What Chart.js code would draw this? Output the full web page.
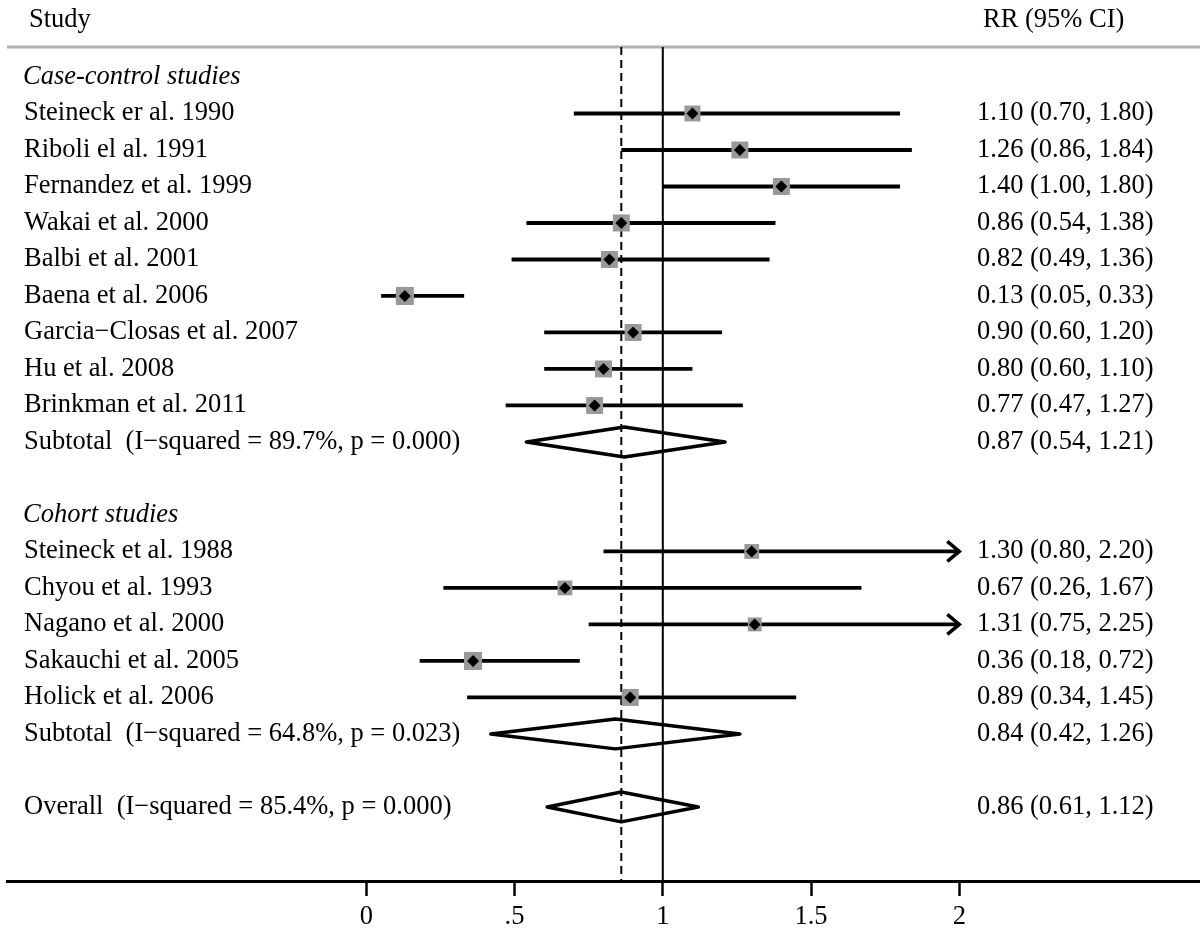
<!doctype html>
<html>
  <head>
    <meta charset="UTF-8">
    <title>Forest plot</title>
    <script src="https://cdn.jsdelivr.net/npm/chart.js@4/dist/chart.umd.min.js"></script>
    <style>
      body {
        margin: 0;
        background: #fff;
      }
      #wrap {
        width: 1200px;
        height: 934px;
      }
    </style>
  </head>
  <body>
    <div id="wrap">
      <canvas id="forest" width="1200" height="934"></canvas>
    </div>
    <script>
      // case-control studies
      var ccStudies = ['Steineck er al. 1990', 'Riboli el al. 1991', 'Fernandez et al. 1999', 'Wakai et al. 2000',
        'Balbi et al. 2001', 'Baena et al. 2006', 'Garcia\u2212Closas et al. 2007', 'Hu et al. 2008', 'Brinkman et al. 2011']
      var ccRR    = [1.10, 1.26, 1.40, 0.86, 0.82, 0.13, 0.90, 0.80, 0.77]
      var ccLower = [0.70, 0.86, 1.00, 0.54, 0.49, 0.05, 0.60, 0.60, 0.47]
      var ccUpper = [1.80, 1.84, 1.80, 1.38, 1.36, 0.33, 1.20, 1.10, 1.27]
      var ccWeight = [6.6, 7.5, 7.5, 7.5, 7.5, 8.5, 7.5, 7.5, 7.5]

      // cohort studies
      var coStudies = ['Steineck et al. 1988', 'Chyou et al. 1993', 'Nagano et al. 2000', 'Sakauchi et al. 2005', 'Holick et al. 2006']
      var coRR    = [1.30, 0.67, 1.31, 0.36, 0.89]
      var coLower = [0.80, 0.26, 0.75, 0.18, 0.34]
      var coUpper = [2.20, 1.67, 2.25, 0.72, 1.45]
      var coWeight = [5.7, 5.7, 5.0, 8.5, 7.5]

      // pooled estimates: case-control subtotal, cohort subtotal, overall
      var pooledLabels = ['Subtotal  (I\u2212squared = 89.7%, p = 0.000)', 'Subtotal  (I\u2212squared = 64.8%, p = 0.023)',
        'Overall  (I\u2212squared = 85.4%, p = 0.000)']
      var pooledRR    = [0.87, 0.84, 0.86]
      var pooledLower = [0.54, 0.42, 0.61]
      var pooledUpper = [1.21, 1.26, 1.12]

      var groupTitles = ['Case-control studies', 'Cohort studies']
      var tickValues = [0, 0.5, 1, 1.5, 2]
      var tickLabels = ['0', '.5', '1', '1.5', '2']

      var FAMILY = '"Liberation Serif", "Times New Roman", serif'
      var FONT = '26.5px ' + FAMILY
      var ITALIC = 'italic 26.5px ' + FAMILY
      var xCap = 2          // CIs beyond this get an arrow
      var yTop = -0.822     // row units at header rule
      var yBottom = 22.03   // row units at x axis
      var diamondHalf = 0.41

      // build row layout
      var rows = []
      var r = 0
      rows.push({kind: 'title', label: groupTitles[0], row: r++})
      for (var i = 0; i < ccStudies.length; i++) {
        rows.push({kind: 'study', label: ccStudies[i], est: ccRR[i], lo: ccLower[i], hi: ccUpper[i], w: ccWeight[i], row: r++})
      }
      rows.push({kind: 'pooled', label: pooledLabels[0], est: pooledRR[0], lo: pooledLower[0], hi: pooledUpper[0], row: r++})
      r++
      rows.push({kind: 'title', label: groupTitles[1], row: r++})
      for (var i = 0; i < coStudies.length; i++) {
        rows.push({kind: 'study', label: coStudies[i], est: coRR[i], lo: coLower[i], hi: coUpper[i], w: coWeight[i], row: r++})
      }
      rows.push({kind: 'pooled', label: pooledLabels[1], est: pooledRR[1], lo: pooledLower[1], hi: pooledUpper[1], row: r++})
      r++
      rows.push({kind: 'pooled', label: pooledLabels[2], est: pooledRR[2], lo: pooledLower[2], hi: pooledUpper[2], row: r++})

      var studies = rows.filter(function(d) { return d.kind == 'study' })
      var pooled = rows.filter(function(d) { return d.kind == 'pooled' })

      var ciData = []
      studies.forEach(function(d) {
        ciData.push({x: d.lo, y: d.row})
        ciData.push({x: Math.min(d.hi, xCap), y: d.row})
        ciData.push({x: d.lo, y: null})
      })

      var diamondData = []
      pooled.forEach(function(d) {
        diamondData.push({x: d.lo, y: d.row})
        diamondData.push({x: d.est, y: d.row - diamondHalf})
        diamondData.push({x: d.hi, y: d.row})
        diamondData.push({x: d.est, y: d.row + diamondHalf})
        diamondData.push({x: d.lo, y: d.row})
        diamondData.push({x: d.lo, y: null})
      })

      var squareData = studies.map(function(d) { return {x: d.est, y: d.row} })
      var squareRadius = studies.map(function(d) { return 6.2 * Math.sqrt(d.w) / Math.SQRT2 })

      function fmt(d) {
        return d.est.toFixed(2) + ' (' + d.lo.toFixed(2) + ', ' + d.hi.toFixed(2) + ')'
      }

      var forestText = {
        id: 'forestText',
        beforeDatasetsDraw: function(chart) {
          var ctx = chart.ctx
          var area = chart.chartArea
          ctx.save()
          ctx.strokeStyle = '#b4b4b4'
          ctx.lineWidth = 3
          ctx.beginPath()
          ctx.moveTo(area.left, area.top)
          ctx.lineTo(area.right, area.top)
          ctx.stroke()
          ctx.restore()
        },
        afterDatasetsDraw: function(chart) {
          var ctx = chart.ctx
          var xs = chart.scales.x
          var ys = chart.scales.y
          ctx.save()
          ctx.fillStyle = '#000'
          ctx.textBaseline = 'middle'
          ctx.font = FONT
          ctx.fillText('Study', 29, 20)
          ctx.fillText('RR (95% CI)', 983, 20)
          rows.forEach(function(d) {
            var py = ys.getPixelForValue(d.row)
            if (d.kind == 'title') {
              ctx.font = ITALIC
              ctx.fillText(d.label, 23, py)
            } else {
              ctx.font = FONT
              ctx.fillText(d.label, 24, py)
              ctx.fillText(fmt(d), 977, py)
            }
          })
          // arrows for truncated CIs
          ctx.strokeStyle = '#000'
          ctx.lineWidth = 3.5
          ctx.lineJoin = 'miter'
          studies.forEach(function(d) {
            if (d.hi > xCap) {
              var px = xs.getPixelForValue(xCap)
              var py = ys.getPixelForValue(d.row)
              ctx.beginPath()
              ctx.moveTo(px - 12, py - 10)
              ctx.lineTo(px, py)
              ctx.lineTo(px - 12, py + 10)
              ctx.stroke()
            }
          })
          ctx.restore()
        }
      }

      var chart = new Chart(document.getElementById('forest').getContext('2d'), {
        type: 'scatter',
        data: {
          datasets: [
            {
              label: 'point',
              data: squareData,
              pointStyle: 'rectRot',
              pointRadius: 6,
              backgroundColor: '#000',
              borderWidth: 0,
              order: 0
            },
            {
              label: 'weight',
              data: squareData,
              pointStyle: 'rect',
              pointRadius: squareRadius,
              backgroundColor: '#999999',
              borderWidth: 0,
              order: 1
            },
            {
              label: 'ci',
              data: ciData,
              showLine: true,
              spanGaps: false,
              pointRadius: 0,
              borderColor: '#000',
              borderWidth: 3.8,
              order: 2
            },
            {
              label: 'pooled',
              data: diamondData,
              showLine: true,
              spanGaps: false,
              pointRadius: 0,
              borderColor: '#000',
              borderWidth: 3.5,
              borderJoinStyle: 'round',
              borderCapStyle: 'round',
              order: 2
            },
            {
              label: 'null',
              data: [{x: 1, y: yTop}, {x: 1, y: yBottom}],
              showLine: true,
              pointRadius: 0,
              borderColor: '#000',
              borderWidth: 2,
              order: 3
            },
            {
              label: 'overall',
              data: [{x: pooledRR[2], y: yTop}, {x: pooledRR[2], y: yBottom}],
              showLine: true,
              pointRadius: 0,
              borderColor: '#000',
              borderWidth: 2,
              borderDash: [8, 5],
              order: 3
            }
          ]
        },
        options: {
          responsive: false,
          animation: false,
          devicePixelRatio: 1,
          layout: {
            autoPadding: false,
            padding: {left: 7, top: 47, right: 0, bottom: 0}
          },
          plugins: {
            legend: {display: false},
            tooltip: {enabled: false}
          },
          scales: {
            x: {
              type: 'linear',
              min: -1.2118,
              max: 2.8118,
              afterBuildTicks: function(scale) {
                scale.ticks = tickValues.map(function(v) { return {value: v} })
              },
              afterFit: function(scale) {
                scale.height = 53
              },
              ticks: {
                callback: function(v, i) { return tickLabels[i] },
                color: '#000',
                padding: 5,
                maxRotation: 0,
                font: {family: FAMILY, size: 26.5}
              },
              grid: {
                display: true,
                drawOnChartArea: false,
                drawTicks: true,
                tickLength: 15,
                tickWidth: 2.5,
                tickColor: '#000'
              },
              border: {
                display: true,
                color: '#000',
                width: 3
              }
            },
            y: {
              type: 'linear',
              display: false,
              reverse: true,
              min: yTop,
              max: yBottom
            }
          }
        },
        plugins: [forestText]
      })
    </script>
  </body>
</html>
